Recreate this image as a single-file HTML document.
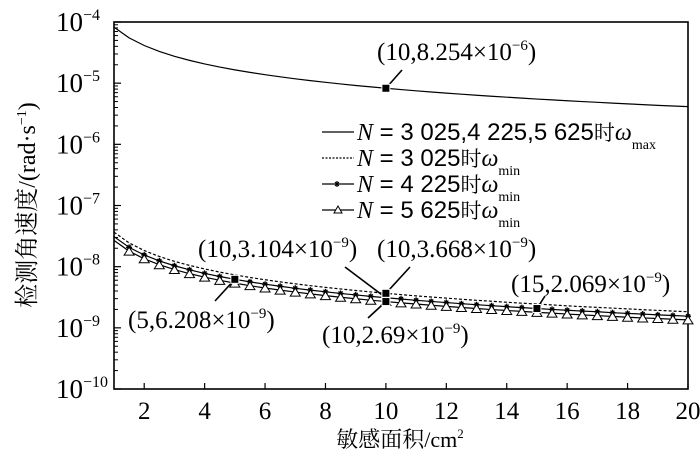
<!DOCTYPE html>
<html><head><meta charset="utf-8"><style>
body{margin:0;background:#fff;width:700px;height:464px;overflow:hidden}
svg{display:block}
text{font-family:"Liberation Serif","Noto Serif CJK SC",serif;fill:#000}
</style></head><body>
<svg id="chart" width="700" height="464" xmlns="http://www.w3.org/2000/svg"></svg>
<script>
const xs=[1,1.5,2,2.5,3,3.5,4,4.5,5,5.5,6,6.5,7,7.5,8,8.5,9,9.5,10,10.5,11,11.5,12,12.5,13,13.5,14,14.5,15,15.5,16,16.5,17,17.5,18,18.5,19,19.5,20];
const wMax=[82.54,55.03,41.27,33.02,27.51,23.58,20.635,18.34,16.51,15.01,13.76,12.70,11.79,11.01,10.32,9.71,9.17,8.69,8.254,7.86,7.50,7.18,6.88,6.60,6.35,6.11,5.90,5.69,5.50,5.33,5.16,5.00,4.86,4.72,4.59,4.46,4.34,4.23,4.13]; // ×1e-6
const wMin3025=[36.68,24.45,18.34,14.67,12.23,10.48,9.17,8.15,7.34,6.67,6.11,5.64,5.24,4.89,4.59,4.32,4.08,3.86,3.668,3.49,3.33,3.19,3.06,2.93,2.82,2.72,2.62,2.53,2.45,2.37,2.29,2.22,2.16,2.10,2.04,1.98,1.93,1.88,1.83]; // ×1e-9
const wMin4225=[31.04,20.69,15.52,12.42,10.35,8.87,7.76,6.90,6.21,5.64,5.17,4.78,4.43,4.14,3.88,3.65,3.45,3.27,3.104,2.96,2.82,2.70,2.59,2.48,2.39,2.30,2.22,2.14,2.07,2.00,1.94,1.88,1.83,1.77,1.72,1.68,1.63,1.59,1.55];
const wMin5625=[26.9,17.93,13.45,10.76,8.97,7.69,6.73,5.98,5.38,4.89,4.48,4.14,3.84,3.59,3.36,3.16,2.99,2.83,2.69,2.56,2.45,2.34,2.24,2.15,2.07,1.99,1.92,1.86,1.79,1.74,1.68,1.63,1.58,1.54,1.49,1.45,1.42,1.38,1.35];
const xTicks=[2,4,6,8,10,12,14,16,18,20];
const yExps=[-4,-5,-6,-7,-8,-9,-10];
const notes=[
 {x:10,v:8.254e-6,label:"(10,8.254×10",ex:"−6",tx:377,ty:60,lx:402,ly:70},
 {x:10,v:3.104e-9,label:"(10,3.104×10",ex:"−9",tx:198,ty:257,lx:345,ly:267},
 {x:10,v:3.668e-9,label:"(10,3.668×10",ex:"−9",tx:377,ty:257,lx:410,ly:267},
 {x:10,v:2.69e-9,label:"(10,2.69×10",ex:"−9",tx:322,ty:343,lx:368,ly:318},
 {x:5,v:6.208e-9,label:"(5,6.208×10",ex:"−9",tx:128,ty:328,lx:215,ly:301},
 {x:15,v:2.069e-9,label:"(15,2.069×10",ex:"−9",tx:511,ty:292,lx:545,ly:296}
];
const L=114,R=688,T=22,B=389;
const X=v=>L+(v-1)*(R-L)/19;
const Y=v=>T+(-Math.log10(v)-4)*(B-T)/6;
const svg=document.getElementById('chart');
const NS="http://www.w3.org/2000/svg";
function mk(tag,attrs,parent){const e=document.createElementNS(NS,tag);for(const k in attrs)e.setAttribute(k,attrs[k]);(parent||svg).appendChild(e);return e;}
const fr=mk('rect',{x:L,y:T,width:R-L,height:B-T,fill:'none',stroke:'#000','stroke-width':1.6});

yExps.forEach(e=>{
 const y=Y(Math.pow(10,e));
 const t=mk('line',{x1:L,x2:L+7,y1:y,y2:y,stroke:'#000','stroke-width':1.2});
 
 if(e>-10){for(let m=2;m<10;m++){const yy=Y(m*Math.pow(10,e-1));const mt=mk('line',{x1:L,x2:L+4,y1:yy,y2:yy,stroke:'#000','stroke-width':1});}}
 const tx=mk('text',{x:e==-10?108:100,y:y+9,'font-size':27,'text-anchor':'end'});
 
 tx.innerHTML='10<tspan dy="-11" font-size="16">−'+(-e)+'</tspan>';
});
xTicks.forEach(v=>{
 const x=X(v);
 const t=mk('line',{x1:x,x2:x,y1:B,y2:B-6,stroke:'#000','stroke-width':1.2});
 
 const tx=mk('text',{x:x,y:B+30,'font-size':25,'text-anchor':'middle'});
 
 tx.textContent=v;
});
const xt=mk('text',{x:400,y:447,'font-size':22,'text-anchor':'middle'});

xt.innerHTML='敏感面积/cm<tspan dy="-9" font-size="13">2</tspan>';
const yt=mk('text',{x:0,y:0,'font-size':24,'text-anchor':'middle',transform:'translate(35,205) rotate(-90)'});

yt.innerHTML='检测角速度/(rad·s<tspan dy="-9" font-size="14">−1</tspan><tspan dy="9">)</tspan>';
function line(vals,scale,dash,name){
 const p=xs.map((x,i)=>X(x)+','+Y(vals[i]*scale)).join(' ');
 const e=mk('polyline',{points:p,fill:'none',stroke:'#000','stroke-width':1.2});
 if(dash)e.setAttribute('stroke-dasharray',dash);
 
}
line(wMax,1e-6,null,'series-omega-max');
line(wMin3025,1e-9,'3,2','series-3025-min');
line(wMin4225,1e-9,null,'series-4225-min');
line(wMin5625,1e-9,null,'series-5625-min');
xs.forEach((x,i)=>{
 if(i==0)return;
 const cx=X(x),y1=Y(wMin4225[i]*1e-9),y2=Y(wMin5625[i]*1e-9);
 const s=mk('path',{d:`M${cx-3},${y1}h6M${cx},${y1-3}v6M${cx-2},${y1-2}l4,4M${cx+2},${y1-2}l-4,4`,stroke:'#000','stroke-width':1.3});
 
 const tr=mk('path',{d:`M${cx},${y2-4}L${cx+5},${y2+4}L${cx-5},${y2+4}Z`,fill:'#fff',stroke:'#000','stroke-width':1});
 
});
notes.forEach(n=>{
 const px=X(n.x),py=Y(n.v);
 const l=mk('line',{x1:px,y1:py,x2:n.lx,y2:n.ly,stroke:'#000','stroke-width':1.6});
 
 const r=mk('rect',{x:px-4,y:py-4,width:8,height:8,fill:'#000',stroke:'#fff','stroke-width':1});
 
 const t=mk('text',{x:n.tx,y:n.ty,'font-size':25});
 
 t.innerHTML=n.label+'<tspan dy="-10" font-size="15">'+n.ex+'</tspan><tspan dy="10">)</tspan>';
});
const leg=[{y:140,t:'3 025,4 225,5 625',sub:'max',m:'solid'},{y:166,t:'3 025',sub:'min',m:'dash'},{y:192,t:'4 225',sub:'min',m:'star'},{y:218,t:'5 625',sub:'min',m:'tri'}];
leg.forEach(g=>{
 const ly=g.y-8;
 const ln=mk('line',{x1:322,x2:354,y1:ly,y2:ly,stroke:'#000','stroke-width':1.2});
 if(g.m=='dash')ln.setAttribute('stroke-dasharray','2,1.5');
 
 if(g.m=='star'){const s=mk('path',{d:`M337,${ly-3}v6M335,${ly-2}l4,4M339,${ly-2}l-4,4`,stroke:'#000','stroke-width':1.2});}
 if(g.m=='tri'){const s=mk('path',{d:`M338,${ly-4}L342,${ly+3}L334,${ly+3}Z`,fill:'#fff',stroke:'#000','stroke-width':1});}
 const t=mk('text',{x:357,y:g.y,'font-size':24});
 
 t.innerHTML='<tspan font-style="italic">N</tspan><tspan font-family="Liberation Sans,sans-serif"> = '+g.t+'</tspan><tspan font-family="Noto Serif CJK SC,serif" font-size="21">时</tspan><tspan font-style="italic">ω</tspan><tspan dy="9" font-size="14">'+g.sub+'</tspan>';
});
</script>
</body></html>
